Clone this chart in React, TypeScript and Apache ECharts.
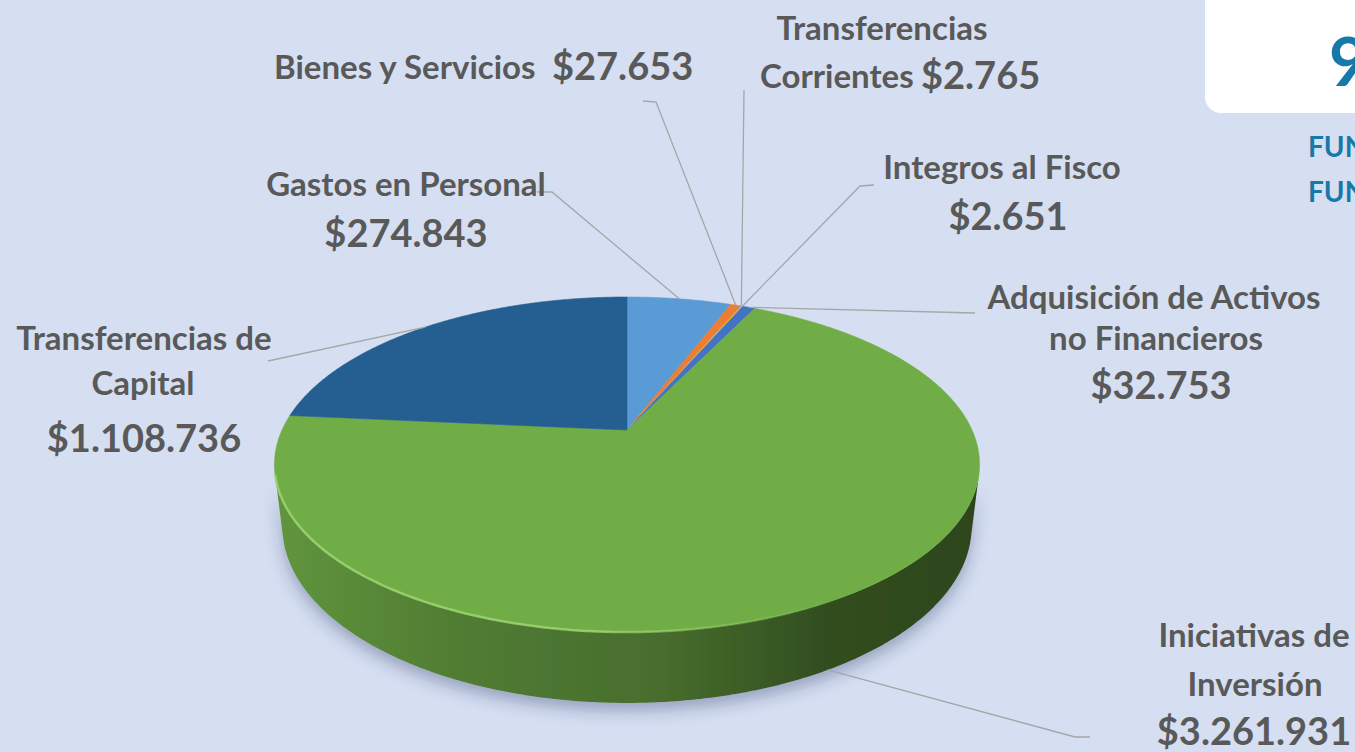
import React, { useEffect, useRef } from 'react';
import * as echarts from 'echarts';

// ---------- data ----------
const categories = [
  'Gastos en Personal',
  'Bienes y Servicios',
  'Transferencias Corrientes',
  'Integros al Fisco',
  'Adquisición de Activos no Financieros',
  'Iniciativas de Inversión',
  'Transferencias de Capital',
];
const values = [274843, 27653, 2765, 2651, 32753, 3261931, 1108736];
const sliceColors = ['#5B9BD5', '#ED7D31', '#A5A5A5', '#FFC000', '#4472C4', '#70AD47', '#255E91'];
const labelNameLines = [
  ['Gastos en Personal'],
  ['Bienes y Servicios'],
  ['Transferencias', 'Corrientes'],
  ['Integros al Fisco'],
  ['Adquisición de Activos', 'no Financieros'],
  ['Iniciativas de', 'Inversión'],
  ['Transferencias de', 'Capital'],
];

// ---------- layout (positions / styles only) ----------
// each line: src = name line index or 'v' for value
const labelLayout = [
  { lines: [{ src: 0, x: 406, y: 183, align: 'center' }, { src: 'v', x: 406, y: 232, align: 'center' }], leader: [[537, 192], [552, 192]] },
  { lines: [{ src: 0, x: 274, y: 66, align: 'left' }, { src: 'v', x: 552, y: 65, align: 'left' }], leader: [[643, 101], [656, 102]] },
  { lines: [{ src: 0, x: 882, y: 27, align: 'center' }, { src: 1, x: 760, y: 75, align: 'left' }, { src: 'v', x: 921, y: 74, align: 'left' }], leader: [[744, 90]] },
  { lines: [{ src: 0, x: 1002, y: 166, align: 'center' }, { src: 'v', x: 1008, y: 215, align: 'center' }], leader: [[874, 185], [860, 186]] },
  { lines: [{ src: 0, x: 1154, y: 296, align: 'center' }, { src: 1, x: 1156, y: 337, align: 'center' }, { src: 'v', x: 1161, y: 384, align: 'center' }], leader: [[975, 313]] },
  { lines: [{ src: 0, x: 1254, y: 634, align: 'center' }, { src: 1, x: 1255, y: 683, align: 'center' }, { src: 'v', x: 1254, y: 730, align: 'center' }], leader: [[1090, 737], [1075, 737]] },
  { lines: [{ src: 0, x: 144, y: 337, align: 'center' }, { src: 1, x: 143, y: 382, align: 'center' }, { src: 'v', x: 144, y: 437, align: 'center' }], leader: [[268, 361]] },
];

const NAME_FONT = 33;
const VALUE_FONT = 38;
const TEXT_COLOR = '#595959';
const LEADER_COLOR = '#A6A6A6';
const FONT = 'Lato, "Open Sans", sans-serif';

// perspective pie geometry (unit radius)
const PIE = { cx: 627, cy: 430, F: 1482, D: 4.296, tilt: Math.asin(0.465), h: 0.204 };
const sinT = Math.sin(PIE.tilt);
const cosT = Math.cos(PIE.tilt);
const WALL_START = (Math.acos(-1 / (PIE.D * cosT)) * 180) / Math.PI; // silhouette angle
const WALL_END = 360 - WALL_START;

function proj(theta: number, down: boolean): number[] {
  const a = (theta * Math.PI) / 180;
  const X = Math.sin(a);
  const Z = -Math.cos(a);
  const Y = down ? -PIE.h : 0;
  const yc = Y * cosT - Z * sinT;
  const d = PIE.D - (Z * cosT + Y * sinT);
  return [PIE.cx + (PIE.F * X) / d, PIE.cy - (PIE.F * yc) / d];
}
function arc(a0: number, a1: number, down: boolean): number[][] {
  const n = Math.max(2, Math.ceil((a1 - a0) / 0.5));
  const pts: number[][] = [];
  for (let k = 0; k <= n; k++) pts.push(proj(a0 + ((a1 - a0) * k) / n, down));
  return pts;
}

const total = values.reduce((s, v) => s + v, 0);
const startAngles: number[] = [];
const endAngles: number[] = [];
{
  let acc = 0;
  values.forEach((v) => {
    startAngles.push((acc / total) * 360);
    acc += v;
    endAngles.push((acc / total) * 360);
  });
}

const fmt = (n: number) => '$' + String(n).replace(/\B(?=(\d{3})+(?!\d))/g, '.');
function darken(c: string, k: number): string {
  const p = echarts.color.parse(c) as number[];
  const f = (v: number) => Math.round(v * (1 - k));
  return `rgb(${f(p[0])},${f(p[1])},${f(p[2])})`;
}

function renderSide(params: any, api: any) {
  const i = params.dataIndex;
  const a0 = startAngles[i];
  const a1 = endAngles[i];
  const s0 = Math.max(a0, WALL_START);
  const s1 = Math.min(a1, WALL_END);
  if (s1 <= s0) return { type: 'group', children: [] };
  const pts = arc(s0, s1, false).concat(arc(s0, s1, true).reverse());
  const c = sliceColors[i];
  return {
    type: 'polygon',
    shape: { points: pts },
    style: {
      fill: {
        type: 'linear', x: 0, y: 0, x2: 1, y2: 0,
        colorStops: [
          { offset: 0, color: darken(c, 0.14) },
          { offset: 0.25, color: darken(c, 0.28) },
          { offset: 0.55, color: darken(c, 0.37) },
          { offset: 0.78, color: darken(c, 0.55) },
          { offset: 1, color: darken(c, 0.6) },
        ],
      },
      shadowBlur: 16,
      shadowOffsetY: 8,
      shadowColor: 'rgba(40,55,100,0.35)',
    },
    silent: true,
  };
}

function renderTop(params: any, api: any) {
  const i = params.dataIndex;
  const a0 = startAngles[i];
  const a1 = endAngles[i];
  const c = sliceColors[i];
  const pts = [[PIE.cx, PIE.cy]].concat(arc(a0, a1, false));
  const children: any[] = [
    { type: 'polygon', shape: { points: pts }, style: { fill: c, stroke: c, lineWidth: 0.6 }, silent: true },
  ];
  const s0 = Math.max(a0, WALL_START);
  const s1 = Math.min(a1, WALL_END);
  if (s1 > s0) {
    children.push({
      type: 'polyline',
      shape: { points: arc(s0, s1, false) },
      style: {
        fill: 'none',
        lineWidth: 2.5,
        stroke: {
          type: 'linear', x: 0, y: 0, x2: 1, y2: 0,
          colorStops: [
            { offset: 0, color: 'rgba(160,215,115,0.8)' },
            { offset: 0.45, color: 'rgba(160,215,115,0.8)' },
            { offset: 0.8, color: 'rgba(160,215,115,0)' },
            { offset: 1, color: 'rgba(160,215,115,0)' },
          ],
        },
      },
      silent: true,
    });
  }
  return { type: 'group', children };
}

function renderLabel(params: any, api: any) {
  const i = params.dataIndex;
  const lay = labelLayout[i];
  const mid = (startAngles[i] + endAngles[i]) / 2;
  const onWall = mid > WALL_START && mid < WALL_END;
  const anchor = proj(mid, onWall);
  const children: any[] = [
    {
      type: 'polyline',
      shape: { points: lay.leader.concat([anchor]) },
      style: { fill: 'none', stroke: LEADER_COLOR, lineWidth: 1.3 },
      silent: true,
    },
  ];
  lay.lines.forEach((ln: any) => {
    const isVal = ln.src === 'v';
    children.push({
      type: 'text',
      x: ln.x,
      y: ln.y,
      style: {
        text: isVal ? fmt(api.value(0)) : labelNameLines[i][ln.src],
        fill: TEXT_COLOR,
        fontFamily: FONT,
        fontWeight: 'bold',
        fontSize: isVal ? VALUE_FONT : NAME_FONT,
        align: ln.align,
        verticalAlign: 'middle',
      },
      silent: true,
    });
  });
  return { type: 'group', children };
}

export default function App() {
  const ref = useRef<HTMLDivElement>(null);
  useEffect(() => {
    const chart = echarts.init(ref.current!, undefined, { renderer: 'svg' });
    chart.setOption({
      animation: false,
      backgroundColor: '#D5DFF1',
      graphic: [
        { type: 'rect', shape: { x: 1205, y: -20, width: 200, height: 133, r: 16 }, style: { fill: '#FFFFFF' }, z: 0 },
        { type: 'text', x: 1329, y: 60, style: { text: '9', fill: '#1679A7', fontFamily: FONT, fontWeight: 'bold', fontSize: 66, align: 'left', verticalAlign: 'middle' } },
        { type: 'text', x: 1308, y: 146, style: { text: 'FUN', fill: '#1679A7', fontFamily: FONT, fontWeight: 'bold', fontSize: 28, align: 'left', verticalAlign: 'middle' } },
        { type: 'text', x: 1308, y: 191, style: { text: 'FUN', fill: '#1679A7', fontFamily: FONT, fontWeight: 'bold', fontSize: 28, align: 'left', verticalAlign: 'middle' } },
      ],
      series: [
        { type: 'custom', name: 'side', coordinateSystem: 'none', data: values, renderItem: renderSide, z: 1 },
        { type: 'custom', name: 'top', coordinateSystem: 'none', data: values.map((v, k) => ({ name: categories[k], value: v })), renderItem: renderTop, z: 2 },
        { type: 'custom', name: 'labels', coordinateSystem: 'none', data: values, renderItem: renderLabel, z: 3 },
      ],
    });
    return () => chart.dispose();
  }, []);
  return <div ref={ref} style={{ position: 'fixed', left: 0, top: 0, width: 1355, height: 752 }} />;
}
